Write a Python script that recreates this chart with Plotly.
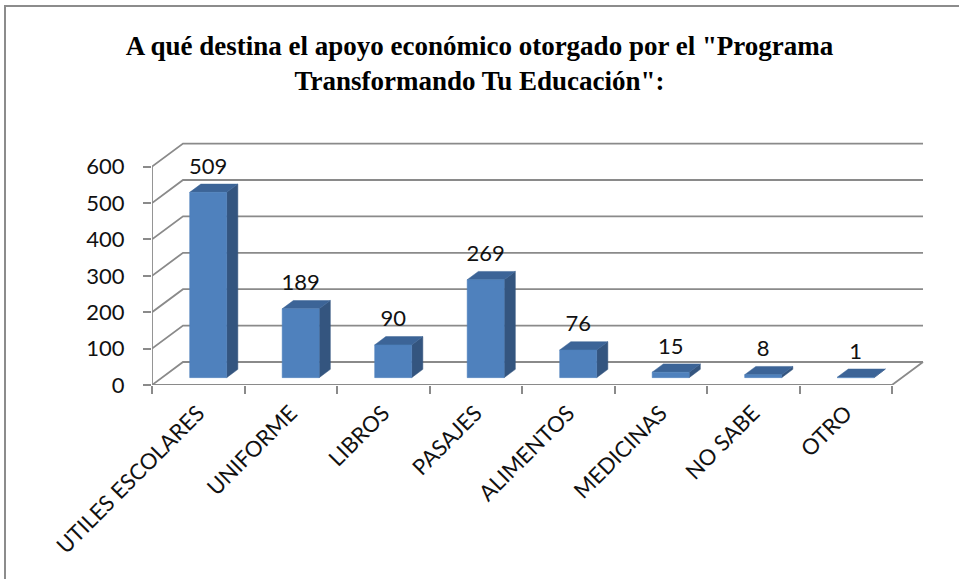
import plotly.graph_objects as go

# ---- data -------------------------------------------------------------
categories = ["UTILES ESCOLARES", "UNIFORME", "LIBROS", "PASAJES",
              "ALIMENTOS", "MEDICINAS", "NO SABE", "OTRO"]
values = [509, 189, 90, 269, 76, 15, 8, 1]
y_ticks = [0, 100, 200, 300, 400, 500, 600]
title_lines = ['A qué destina el apoyo económico otorgado por el "Programa',
               'Transformando Tu Educación":']

# ---- oblique-projection geometry (data units) --------------------------
W, H = 959, 579
L_M, R_M, T_M, B_M = 152, 34, 138, 194
plot_w = W - L_M - R_M
plot_h = H - T_M - B_M
px_x = 92.5           # pixels per category
px_y = 0.364          # pixels per value unit
x_max = plot_w / px_x
y_max = plot_h / px_y

DX = 31 / px_x        # depth of the floor, horizontal component
DY = 23 / px_y        # depth of the floor, vertical component
F0, FD = 0.32, 0.36   # bar depth start / extent as fraction of floor depth
BAR_W = 0.4
LABEL_GAP = 24 / px_y

GRID = "#8a8a8a"
FRONT, SIDE, TOP = "#4F81BD", "#34557F", "#3C6497"
FONT = "Lato"

n = len(categories)
fig = go.Figure()

def add_lines(xs, ys, color=GRID, width=1.8):
    fig.add_trace(go.Scatter(x=xs, y=ys, mode="lines", hoverinfo="skip",
                             line=dict(color=color, width=width),
                             showlegend=False))

# back-wall gridlines and side-wall diagonals
gx, gy = [], []
for v in y_ticks:
    gx += [0, DX, n + DX, None]
    gy += [v, v + DY, v + DY, None]
# floor front edge, right floor edge and the value axis
gx += [0, n, n + DX, None, 0, 0]
gy += [0, 0, DY, None, 0, y_ticks[-1]]
add_lines(gx, gy)

# bar faces
fx, fy, sx, sy, tx, ty = [], [], [], [], [], []
lx, ly = [], []
b = F0 * DY
ddx, ddy = FD * DX, FD * DY
for i, v in enumerate(values):
    xl = i + 0.5 + F0 * DX - BAR_W / 2
    xr = xl + BAR_W
    fx += [xl, xr, xr, xl, xl, None]
    fy += [b, b, b + v, b + v, b, None]
    sx += [xr, xr + ddx, xr + ddx, xr, xr, None]
    sy += [b, b + ddy, b + ddy + v, b + v, b, None]
    tx += [xl, xr, xr + ddx, xl + ddx, xl, None]
    ty += [b + v, b + v, b + v + ddy, b + v + ddy, b + v, None]
    lx.append((xl + xr) / 2)
    ly.append(b + v + LABEL_GAP)

for xs, ys, col in [(sx, sy, SIDE), (tx, ty, TOP), (fx, fy, FRONT)]:
    fig.add_trace(go.Scatter(x=xs, y=ys, mode="lines", fill="toself",
                             fillcolor=col, line=dict(color=col, width=0.5),
                             hoverinfo="skip", showlegend=False))

# value labels
fig.add_trace(go.Scatter(x=lx, y=ly, mode="text", text=[str(v) for v in values],
                         textposition="middle center", cliponaxis=False,
                         textfont=dict(family=FONT, size=22, color="#111111"),
                         hoverinfo="skip", showlegend=False))

def to_paper_x(px):
    return (px - L_M) / plot_w

def to_paper_y(py):
    return (H - B_M - py) / plot_h

fig.update_layout(
    width=W, height=H,
    margin=dict(l=L_M, r=R_M, t=T_M, b=B_M),
    paper_bgcolor="white", plot_bgcolor="white",
    title=dict(text="<b>" + "<br>".join(title_lines) + "</b>",
               x=0.5, xanchor="center", xref="container",
               y=1 - 55 / H, yanchor="middle", yref="container",
               font=dict(family="Liberation Serif", size=27, color="#000000")),
    xaxis=dict(range=[0, x_max], showgrid=False, zeroline=False, showline=False,
               tickmode="array", tickvals=[i + 0.5 for i in range(n)],
               ticktext=categories, tickangle=-45, ticks="",
               ticklabelstandoff=10,
               tickfont=dict(family=FONT, size=22, color="#111111"),
               minor=dict(tickmode="array", tickvals=list(range(n + 1)),
                          ticks="outside", ticklen=8, tickwidth=1.8,
                          tickcolor=GRID, showgrid=False),
               fixedrange=True),
    yaxis=dict(range=[0, y_max], showgrid=False, zeroline=False, showline=False,
               tickmode="array", tickvals=y_ticks, ticks="outside", ticklen=8,
               tickwidth=1.8, tickcolor=GRID, ticklabelstandoff=14,
               tickfont=dict(family=FONT, size=22, color="#111111"),
               fixedrange=True),
    shapes=[dict(type="rect", xref="paper", yref="paper",
                 x0=to_paper_x(5), x1=to_paper_x(W + 10),
                 y0=to_paper_y(H + 10), y1=to_paper_y(6),
                 line=dict(color="#8c8c8c", width=2), layer="below")],
)

fig.write_html("out.html")
